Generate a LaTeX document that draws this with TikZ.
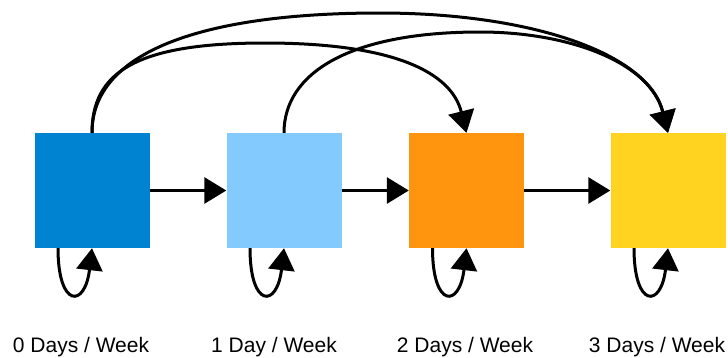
\documentclass[tikz,border=0pt]{standalone}
\usepackage{fontspec}
\setmainfont{Liberation Sans}
\usetikzlibrary{arrows.meta}
\definecolor{dayzero}{HTML}{0084D1}
\definecolor{dayone}{HTML}{83CAFF}
\definecolor{daytwo}{HTML}{FF950E}
\definecolor{daythree}{HTML}{FFD320}
\begin{document}
\begin{tikzpicture}[x=1pt,y=1pt,
  day/.style={rectangle,minimum size=115pt,inner sep=0pt},
  link/.style={line width=3pt,-{Triangle[length=22pt,width=26pt]}},
  daylabel/.style={anchor=base,inner sep=0pt,font=\fontsize{21}{25}\selectfont}]
\useasboundingbox (0,0) rectangle (728,-357);
\node[day,fill=dayzero] (d0) at (92,-190.5) {};
\node[day,fill=dayone] (d1) at (284,-190.5) {};
\node[day,fill=daytwo] (d2) at (466.5,-190.5) {};
\node[day,fill=daythree] (d3) at (668,-190.5) {};
\node[daylabel] (t0) at (81,-352) {0 Days / Week};
\node[daylabel] (t1) at (274,-352) {1 Day / Week};
\node[daylabel] (t2) at (465,-352) {2 Days / Week};
\node[daylabel] (t3) at (657,-352) {3 Days / Week};
\draw[link] (d0.east) -- (d1.west);
\draw[link] (d1.east) -- (d2.west);
\draw[link] (d2.east) -- (d3.west);
\foreach \d in {d0,d1,d2,d3}
  \draw[link] ([xshift=-34pt]\d.south) .. controls +(0,-60) and +(-7,-60) .. (\d.south);
% jumps over the top
\coordinate (topA) at (265,-43);
\coordinate (topB) at (380,-13);
\coordinate (topC) at (480,-32);
\draw[link] (d0.north) .. controls +(0,60) and +(-130,0) .. (topA) .. controls +(130,0) and +(-15,60) .. (d2.north);
\draw[link] (d0.north) .. controls +(0,80) and +(-180,0) .. (topB) .. controls +(150,0) and +(-20,80) .. (d3.north);
\draw[link] (d1.north) .. controls +(0,60) and +(-130,0) .. (topC) .. controls +(90,0) and +(-17.5,70) .. (d3.north);
\end{tikzpicture}
\end{document}
